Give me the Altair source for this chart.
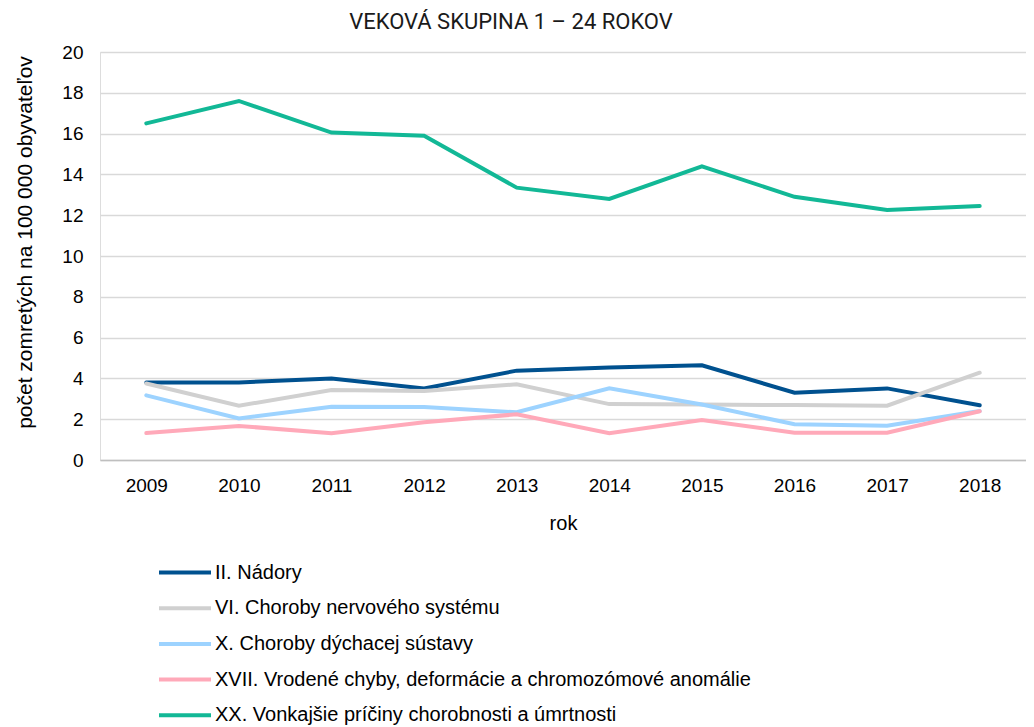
import altair as alt
import pandas as pd

years = [2009, 2010, 2011, 2012, 2013, 2014, 2015, 2016, 2017, 2018]
series_names = [
    "II. Nádory",
    "VI. Choroby nervového systému",
    "X. Choroby dýchacej sústavy",
    "XVII. Vrodené chyby, deformácie a chromozómové anomálie",
    "XX. Vonkajšie príčiny chorobnosti a úmrtnosti",
]
nadory = [3.80, 3.80, 4.00, 3.51, 4.38, 4.54, 4.64, 3.30, 3.51, 2.68]
nervovy = [3.75, 2.66, 3.43, 3.38, 3.71, 2.74, 2.72, 2.69, 2.66, 4.28]
dychaci = [3.17, 2.04, 2.61, 2.60, 2.34, 3.51, 2.72, 1.75, 1.68, 2.40]
vrodene = [1.32, 1.67, 1.31, 1.85, 2.24, 1.31, 1.96, 1.34, 1.34, 2.39]
vonkajsie = [16.50, 17.60, 16.05, 15.90, 13.35, 12.80, 14.40, 12.90, 12.25, 12.45]
colors = ["#00518f", "#d0d0d0", "#9dd3ff", "#ffa9b9", "#12b896"]
y_ticks = [0, 2, 4, 6, 8, 10, 12, 14, 16, 18, 20]

values = [nadory, nervovy, dychaci, vrodene, vonkajsie]
rows = []
for name, vals in zip(series_names, values):
    for yr, v in zip(years, vals):
        rows.append({"rok": str(yr), "séria": name, "hodnota": v})
df = pd.DataFrame(rows)

font = "Liberation Sans"

chart = (
    alt.Chart(df)
    .mark_line(strokeWidth=4, strokeCap="round")
    .encode(
        x=alt.X(
            "rok:N",
            title="rok",
            sort=[str(y) for y in years],
            axis=alt.Axis(
                labelAngle=0,
                labelFontSize=19,
                labelFont=font,
                labelColor="#000000",
                labelPadding=16,
                ticks=False,
                domainColor="#bfbfbf",
                domainWidth=1.5,
                grid=False,
                titleFont=font,
                titleFontSize=20,
                titleFontWeight="normal",
                titleColor="#000000",
                titlePadding=18,
            ),
        ),
        y=alt.Y(
            "hodnota:Q",
            title="počet zomretých na 100 000 obyvateľov",
            scale=alt.Scale(domain=[0, 20], nice=False),
            axis=alt.Axis(
                values=y_ticks,
                labelFontSize=19,
                labelFont=font,
                labelColor="#000000",
                labelPadding=17,
                ticks=False,
                domain=False,
                gridColor="#d9d9d9",
                gridWidth=1.5,
                titleFont=font,
                titleFontSize=21,
                titleFontWeight="normal",
                titleColor="#000000",
                titleX=-75,
                titleY=190,
                titleBaseline="middle",
            ),
        ),
        color=alt.Color(
            "séria:N",
            sort=series_names,
            scale=alt.Scale(domain=series_names, range=colors),
            legend=alt.Legend(
                title=None,
                orient="none",
                legendX=57,
                legendY=503,
                direction="vertical",
                symbolType="stroke",
                symbolSize=2704,
                symbolStrokeWidth=4,
                labelFont=font,
                labelFontSize=20,
                labelColor="#000000",
                labelOffset=2,
                clipHeight=35,
                rowPadding=0.7,
                labelLimit=800,
            ),
        ),
    )
    .properties(
        width=926,
        height=408,
        autosize=alt.AutoSizeParams(type="none"),
        padding={"left": 92, "top": 44, "right": 0, "bottom": 267},
        title=alt.TitleParams(
            "VEKOVÁ SKUPINA 1 – 24 ROKOV",
            font="Roboto",
            fontSize=22,
            fontWeight="normal",
            color="#1a1a1a",
            anchor="middle",
            dx=-52,
            offset=9,
        ),
    )
    .configure_view(stroke=None)
    .configure(background="#ffffff")
)

chart.save("out.html", embed_options={"renderer": "svg", "actions": False})
